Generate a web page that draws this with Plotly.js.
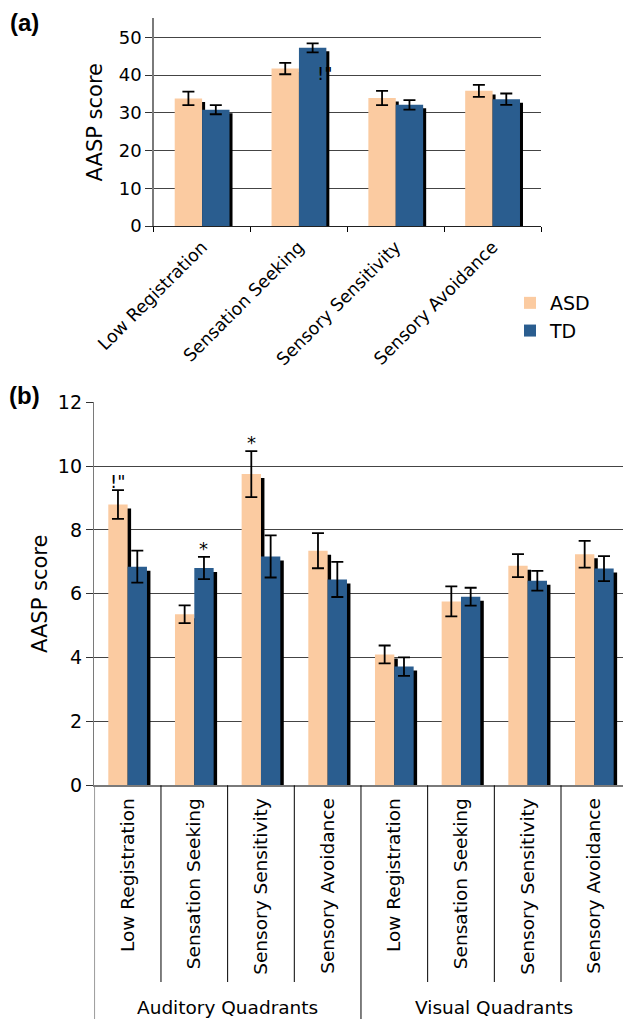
<!DOCTYPE html>
<html><head><meta charset="utf-8">
<script src="https://cdn.plot.ly/plotly-3.0.1.min.js"></script>
<style>html,body{margin:0;padding:0;background:#fff;overflow:hidden}#chart{width:623px;height:1019px}</style>
</head><body><div id="chart"></div>
<script>
// ---------- data ----------
const quadrants = ['Low Registration', 'Sensation Seeking', 'Sensory Sensitivity', 'Sensory Avoidance'];
const groups = ['ASD', 'TD'];
// panel (a): overall AASP quadrant scores
const aASD = [33.8, 41.7, 33.9, 35.8];
const aASDerr = [1.8, 1.5, 1.9, 1.6];
const aTD = [30.8, 47.2, 32.1, 33.6];
const aTDerr = [1.2, 1.2, 1.25, 1.5];
// panel (b): auditory and visual quadrant scores
const modalities = ['Auditory Quadrants', 'Visual Quadrants'];
const bLabels = quadrants.concat(quadrants);
const bASD = [8.80, 5.36, 9.75, 7.35, 4.10, 5.76, 6.88, 7.24];
const bASDerr = [0.45, 0.28, 0.72, 0.55, 0.28, 0.47, 0.36, 0.42];
const bTD = [6.85, 6.81, 7.17, 6.45, 3.72, 5.91, 6.41, 6.79];
const bTDerr = [0.50, 0.35, 0.66, 0.55, 0.29, 0.28, 0.31, 0.39];
// significance marks in panel (b): [category index, group, text]
const sigB = [[0, 'ASD', '!"'], [2, 'ASD', '*'], [1, 'TD', '*']];

// ---------- style ----------
const FONT = 'DejaVu Sans, Verdana, sans-serif';
const C_ASD = '#FBCBA1';
const C_TD = '#2A5D8F';
const W = 623, H = 1019;

function panelTraces(xs, asd, asdErr, td, tdErr, w, dx, dy, xa, ya, legend) {
  const common = {type: 'bar', x: xs, width: w, xaxis: xa, yaxis: ya};
  const eb = (arr) => ({type: 'data', array: arr, visible: true, color: '#000', thickness: 1.8, width: 6});
  return [
    Object.assign({}, common, {y: asd, base: -dy, offset: -w + dx, marker: {color: '#000', line: {width: 0}},
      showlegend: false, hoverinfo: 'skip', cliponaxis: false}),
    Object.assign({}, common, {y: td, base: -dy, offset: dx, marker: {color: '#000', line: {width: 0}},
      showlegend: false, hoverinfo: 'skip', cliponaxis: false}),
    Object.assign({}, common, {y: asd, offset: -w, name: groups[0], showlegend: legend,
      marker: {color: C_ASD, line: {width: 0}}, error_y: eb(asdErr)}),
    Object.assign({}, common, {y: td, offset: 0, name: groups[1], showlegend: legend,
      marker: {color: C_TD, line: {width: 0}}, error_y: eb(tdErr)})
  ];
}

const bX = bLabels.map((_, i) => i);
const wA = 0.283, wB = 0.29;
const traces = []
  .concat(panelTraces(quadrants, aASD, aASDerr, aTD, aTDerr, wA, 0.031, 0.93, 'x', 'y', true))
  .concat(panelTraces(bX, bASD, bASDerr, bTD, bTDerr, wB, 0.052, 0.125, 'x2', 'y2', false));

// paper-fraction helpers
const px = (x) => x / W;
const py = (y) => (H - y) / H;

// dividers below panel (b)
const shapes = [];
const bBottom = py(785.3);
for (let i = 1; i < bLabels.length; i++) {
  const full = (i === quadrants.length);
  shapes.push({type: 'line', xref: 'x2', yref: 'paper', x0: i - 0.5, x1: i - 0.5,
    y0: full ? 0 : py(982), y1: bBottom, line: {color: '#000', width: 1}});
}
shapes.push({type: 'line', xref: 'x2', yref: 'paper', x0: -0.5, x1: -0.5, y0: 0, y1: bBottom,
  line: {color: '#7a7a7a', width: 1.5}});

const annotations = [
  {text: '<b>(a)</b>', xref: 'paper', yref: 'paper', x: px(24), y: py(22), xanchor: 'center', yanchor: 'middle',
    showarrow: false, font: {family: 'Liberation Sans, Arial, sans-serif', size: 24, color: '#000'}},
  {text: '<b>(b)</b>', xref: 'paper', yref: 'paper', x: px(24.5), y: py(395), xanchor: 'center', yanchor: 'middle',
    showarrow: false, font: {family: 'Liberation Sans, Arial, sans-serif', size: 24, color: '#000'}},
  {text: '!"', xref: 'x', yref: 'y', x: 1.27, y: 40.5, xanchor: 'center', yanchor: 'middle', showarrow: false,
    font: {family: FONT, size: 18, color: '#000'}}
];
sigB.forEach(([i, g, t]) => {
  const isASD = g === 'ASD';
  annotations.push({text: t, xref: 'x2', yref: 'y2', x: i + (isASD ? -wB / 2 : wB / 2),
    y: isASD ? bASD[i] + bASDerr[i] : bTD[i] + bTDerr[i], xanchor: 'center', yanchor: 'bottom', yshift: -4,
    showarrow: false, font: {family: FONT, size: 18, color: '#000'}});
});
modalities.forEach((m, k) => {
  annotations.push({text: m, xref: 'x2', yref: 'paper', x: k * quadrants.length + (quadrants.length - 1) / 2,
    y: py(1007.5), xanchor: 'center', yanchor: 'middle', showarrow: false,
    font: {family: FONT, size: 18.5, color: '#000'}});
});

const layout = {
  width: W, height: H, margin: {l: 0, r: 0, t: 0, b: 0},
  paper_bgcolor: '#fff', plot_bgcolor: '#fff',
  barmode: 'overlay', font: {family: FONT, color: '#000'},
  showlegend: true,
  legend: {x: px(510), y: py(284), xanchor: 'left', yanchor: 'top', tracegroupgap: 0,
    font: {family: FONT, size: 19, color: '#000'}, bgcolor: 'rgba(0,0,0,0)'},
  xaxis: {domain: [px(153.7), px(541)], range: [-0.5, 3.5], type: 'category', anchor: 'y',
    showline: true, linecolor: '#222', linewidth: 1, ticks: 'outside', tickson: 'boundaries', ticklen: 5,
    tickcolor: '#000', tickangle: -45, ticklabelstandoff: 3, tickfont: {family: FONT, size: 17.5, color: '#000'},
    showgrid: false, zeroline: false, fixedrange: true},
  yaxis: {domain: [py(226), py(18.4)], range: [0, 55], anchor: 'x', dtick: 10, tick0: 0,
    showline: true, linecolor: '#7a7a7a', linewidth: 1.5, ticks: 'outside', ticklen: 7, tickcolor: '#333',
    tickfont: {family: FONT, size: 18, color: '#000'}, showgrid: true, gridcolor: '#444', gridwidth: 1,
    zeroline: false, title: {text: 'AASP score', font: {family: FONT, size: 21, color: '#000'}, standoff: 10}},
  xaxis2: {domain: [px(94.3), 1], range: [-0.5, 7.43], anchor: 'y2', tickmode: 'array', tickvals: bX, ticktext: bLabels,
    showline: true, linecolor: '#7a7a7a', linewidth: 1.5, ticks: '', ticklabelstandoff: 4,
    tickangle: -90, tickfont: {family: FONT, size: 18.5, color: '#000'}, showgrid: false, zeroline: false},
  yaxis2: {domain: [py(785.3), py(402.3)], range: [0, 12], anchor: 'x2', dtick: 2, tick0: 0,
    showline: true, linecolor: '#7a7a7a', linewidth: 1.5, ticks: 'outside', ticklen: 7, tickcolor: '#333',
    tickfont: {family: FONT, size: 19, color: '#000'}, showgrid: true, gridcolor: '#444', gridwidth: 1,
    zeroline: false, title: {text: 'AASP score', font: {family: FONT, size: 21, color: '#000'}, standoff: 4}},
  shapes: shapes,
  annotations: annotations
};

Plotly.newPlot('chart', traces, layout, {staticPlot: true, displayModeBar: false});
</script>
</body></html>
